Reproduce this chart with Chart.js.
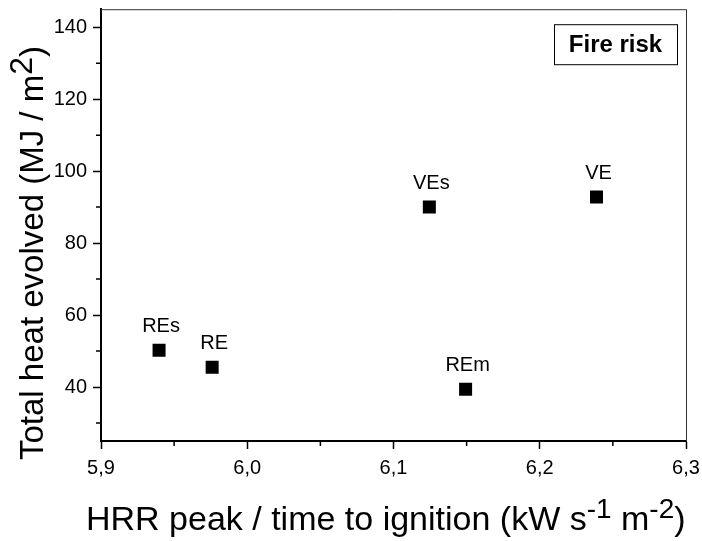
<!DOCTYPE html>
<html>
<head>
<meta charset="utf-8">
<script src="https://cdn.jsdelivr.net/npm/chart.js@4/dist/chart.umd.min.js"></script>
<style>
  html, body { margin: 0; padding: 0; background: #fff; }
  canvas { display: block; }
</style>
</head>
<body>
<canvas id="myChart" width="702" height="541"></canvas>
<script>
// Sample names and measured values
const sampleNames = ['REs', 'RE', 'VEs', 'VE', 'REm'];
const hrrValues = [5.9397, 5.976, 6.1245, 6.2388, 6.1493];
const heatValues = [50.2, 45.5, 90.0, 92.8, 39.4];

// Axis ticks
const xMajorTicks = [5.9, 6.0, 6.1, 6.2, 6.3];
const xMinorTicks = [5.95, 6.05, 6.15, 6.25];
const yMajorTicks = [40, 60, 80, 100, 120, 140];
const yMinorTicks = [30, 50, 70, 90, 110, 130];

const FONT = "'Liberation Sans', Arial, sans-serif";

// draw a run of text pieces along a baseline (for superscripts)
function drawRich(ctx, parts, x, y) {
  let cx = x;
  parts.forEach(p => {
    ctx.font = (p.weight || 'normal') + ' ' + p.size + 'px ' + FONT;
    ctx.fillText(p.text, cx, y - (p.rise || 0));
    cx += ctx.measureText(p.text).width;
  });
}

const extrasPlugin = {
  id: 'extras',
  afterDraw(chart) {
    const ctx = chart.ctx;
    const area = chart.chartArea;
    const xs = chart.scales.x;
    const ys = chart.scales.y;
    ctx.save();

    // top and right frame
    ctx.strokeStyle = '#333';
    ctx.lineWidth = 1;
    ctx.beginPath();
    ctx.moveTo(area.left, area.top + 0.5);
    ctx.lineTo(area.right + 0.5, area.top + 0.5);
    ctx.lineTo(area.right + 0.5, area.bottom);
    ctx.stroke();

    // minor ticks
    ctx.strokeStyle = '#000';
    ctx.lineWidth = 1.5;
    ctx.beginPath();
    xMinorTicks.forEach(v => {
      const px = xs.getPixelForValue(v);
      ctx.moveTo(px, area.bottom);
      ctx.lineTo(px, area.bottom + 5);
    });
    yMinorTicks.forEach(v => {
      const py = ys.getPixelForValue(v);
      ctx.moveTo(area.left, py);
      ctx.lineTo(area.left - 5, py);
    });
    ctx.stroke();

    // point labels
    ctx.fillStyle = '#000';
    ctx.font = '20px ' + FONT;
    ctx.textAlign = 'center';
    ctx.textBaseline = 'alphabetic';
    const meta = chart.getDatasetMeta(0);
    meta.data.forEach((pt, i) => {
      ctx.fillText(sampleNames[i], pt.x + 2, pt.y - 18);
    });

    // "Fire risk" box
    const bw = 123, bh = 40;
    const bx = area.right - 9 - bw, by = area.top + 15;
    ctx.lineWidth = 1;
    ctx.strokeStyle = '#000';
    ctx.strokeRect(bx + 0.5, by + 0.5, bw, bh);
    ctx.font = 'bold 24px ' + FONT;
    ctx.textBaseline = 'middle';
    ctx.fillText('Fire risk', bx + bw / 2, by + bh / 2 + 1);

    // axis titles
    ctx.textAlign = 'left';
    ctx.textBaseline = 'alphabetic';
    drawRich(ctx, [
      { text: 'HRR peak / time to ignition ', size: 34 },
      { text: '(kW s', size: 34 },
      { text: '-1', size: 28, rise: 12 },
      { text: ' m', size: 34 },
      { text: '-2', size: 28, rise: 12 },
      { text: ')', size: 34 }
    ], area.left - 15, chart.height - 11);

    ctx.translate(43, area.bottom + 19);
    ctx.rotate(-Math.PI / 2);
    drawRich(ctx, [
      { text: 'Total heat evolved (MJ / m', size: 33 },
      { text: '2', size: 32, rise: 11 },
      { text: ')', size: 33 }
    ], 0, 0);

    ctx.restore();
  }
};

const ctx = document.getElementById('myChart').getContext('2d');

const data = {
  datasets: [{
    label: 'Fire risk',
    data: hrrValues.map((x, i) => ({ x: x, y: heatValues[i] })),
    pointStyle: 'rect',
    pointRadius: 9.2,
    pointHoverRadius: 9.2,
    backgroundColor: '#000',
    borderWidth: 0,
    showLine: false
  }]
};

const tickFont = { family: FONT, size: 20 };

const chart = new Chart(ctx, {
  type: 'scatter',
  data: data,
  options: {
    responsive: false,
    animation: false,
    layout: { padding: { top: 7, right: 16, left: 0, bottom: 0 } },
    plugins: {
      legend: { display: false },
      tooltip: { enabled: false }
    },
    scales: {
      x: {
        type: 'linear',
        min: 5.9,
        max: 6.3,
        afterBuildTicks: s => { s.ticks = xMajorTicks.map(v => ({ value: v })); },
        afterFit: s => { s.height = 100; s.paddingLeft = 0; s.paddingRight = 0; },
        ticks: {
          callback: v => v.toFixed(1).replace('.', ','),
          font: tickFont,
          color: '#000',
          padding: 7,
          maxRotation: 0,
          autoSkip: false
        },
        grid: { drawOnChartArea: false, tickLength: 8, tickColor: '#000', tickWidth: 1.5 },
        border: { color: '#000', width: 2 }
      },
      y: {
        min: 25,
        max: 145,
        afterBuildTicks: s => { s.ticks = yMajorTicks.map(v => ({ value: v })); },
        afterFit: s => { s.width = 101; s.paddingTop = 0; s.paddingBottom = 0; },
        ticks: {
          font: tickFont,
          color: '#000',
          padding: 6,
          autoSkip: false
        },
        grid: { drawOnChartArea: false, tickLength: 8, tickColor: '#000', tickWidth: 1.5 },
        border: { color: '#000', width: 2 }
      }
    }
  },
  plugins: [extrasPlugin]
});
</script>
</body>
</html>
